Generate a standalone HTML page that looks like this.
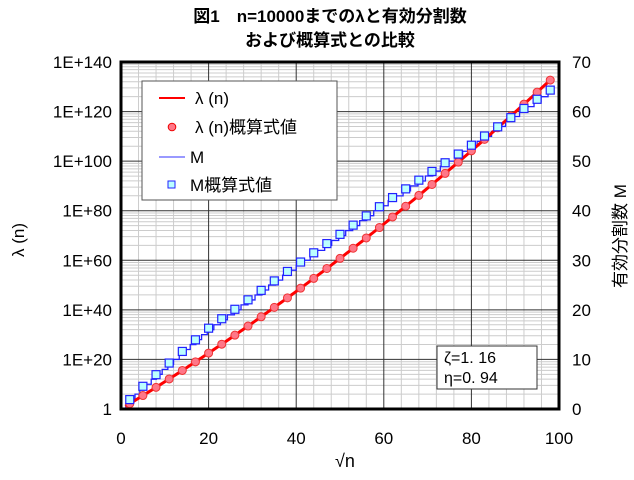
<!DOCTYPE html>
<html><head><meta charset="utf-8"><style>
body{margin:0;background:#fff;}
svg text{font-family:"Liberation Sans","Noto Sans CJK JP",sans-serif;}
</style></head><body>
<svg id="s" width="634" height="475" xmlns="http://www.w3.org/2000/svg">
<rect width="634" height="475" fill="#fff"/>
<g id="grid"></g>
<g id="ser"></g>
<rect x="121" y="62" width="438" height="347" fill="none" stroke="#000" stroke-width="3"/>
<text x="330" y="22" font-size="17" font-weight="bold" text-anchor="middle">図1　n=10000までのλと有効分割数</text>
<text x="330" y="46" font-size="17" font-weight="bold" text-anchor="middle">および概算式との比較</text>
<g font-size="17" text-anchor="end" id="yl"></g>
<g font-size="17" text-anchor="start" id="yr"></g>
<g font-size="17" text-anchor="middle" id="xl"></g>
<text transform="translate(24,240) rotate(-90)" font-size="17" text-anchor="middle">λ (n)</text>
<text transform="translate(626,236) rotate(-90)" font-size="17" text-anchor="middle">有効分割数  M</text>
<text x="345" y="467" font-size="18" text-anchor="middle">√n</text>
<rect x="142" y="81" width="195" height="119" fill="#fff" stroke="#555" stroke-width="1"/>
<line x1="159" y1="98" x2="185" y2="98" stroke="#f00" stroke-width="2"/>
<text x="195" y="104" font-size="17">λ (n)</text>
<circle cx="172" cy="127" r="3.8" fill="#f78" stroke="#e00"/>
<text x="195" y="133" font-size="17">λ (n)概算式値</text>
<line x1="159" y1="157" x2="185" y2="157" stroke="#33f" stroke-width="1"/>
<text x="190" y="163" font-size="17">M</text>
<rect x="168" y="181" width="7" height="7" fill="#bff" stroke="#22f"/>
<text x="190" y="191" font-size="17">M概算式値</text>
<rect x="437" y="346" width="100" height="43" fill="#fff" stroke="#333"/>
<text x="444" y="363" font-size="16">ζ=1. 16</text>
<text x="444" y="383" font-size="16">η=0. 94</text>
</svg>
<script>
const NS="http://www.w3.org/2000/svg";
function el(p,t,a){const e=document.createElementNS(NS,t);for(const k in a)e.setAttribute(k,a[k]);p.appendChild(e);return e;}
const L=121,R=559,T=62,B=409;
const X=s=>L+s*(R-L)/100, YD=d=>B-d*(B-T)/140, YM=m=>B-m*(B-T)/70;
const g=document.getElementById('grid');
for(let s=4;s<100;s+=4){if(s%20)el(g,'line',{x1:X(s),x2:X(s),y1:T,y2:B,stroke:'#ccc','stroke-width':1});}
for(let b=0;b<140;b+=20){for(let k=2;k<=9;k++){const y=YD(b+20*Math.log10(k));el(g,'line',{x1:L,x2:R,y1:y,y2:y,stroke:'#ccc','stroke-width':1});}}
for(let s=20;s<100;s+=20)el(g,'line',{x1:X(s),x2:X(s),y1:T,y2:B,stroke:'#333','stroke-width':1});
for(let d=20;d<140;d+=20)el(g,'line',{x1:L,x2:R,y1:YD(d),y2:YD(d),stroke:'#333','stroke-width':1});
const yl=document.getElementById('yl'),yr=document.getElementById('yr'),xl=document.getElementById('xl');
for(let d=0;d<=140;d+=20){el(yl,'text',{x:112,y:YD(d)+6}).textContent=d?('1E+'+d):'1';}
for(let m=0;m<=70;m+=10){el(yr,'text',{x:572,y:YM(m)+6}).textContent=m;}
for(let s=0;s<=100;s+=20){el(xl,'text',{x:X(s),y:444}).textContent=s;}
const lam=s=>1.07*s+0.0029*s*s;
const mp=[[0,0],[4,3.8],[20,16.3],[40.6,29.4],[61.4,42.3],[79,52.6],[98.6,64.7],[100,65.5]];
const M=s=>{for(let i=1;i<mp.length;i++){if(s<=mp[i][0]){const a=mp[i-1],b=mp[i];return a[1]+(b[1]-a[1])*(s-a[0])/(b[0]-a[0]);}}return 65.5;};
const ser=document.getElementById('ser');
let d='';let prev=null;
for(let s=1;s<=98.6;s+=0.1){const m=Math.floor(M(s));const x=X(s),y=YM(m);if(prev===null)d+='M'+x+' '+y;else if(m!==prev)d+='L'+x+' '+YM(prev)+'L'+x+' '+y;prev=m;}
d+='L'+X(98.6)+' '+YM(prev);
el(ser,'path',{d:d,fill:'none',stroke:'#22f','stroke-width':1.3});
let dr='';for(let s=1;s<=98.6;s+=0.5){dr+=(dr?'L':'M')+X(s)+' '+YD(lam(s));}
el(ser,'path',{d:dr,fill:'none',stroke:'#f00','stroke-width':3});
for(let s=2;s<=99;s+=3){el(ser,'circle',{cx:X(s),cy:YD(lam(s)),r:4,fill:'#f78',stroke:'#e33','stroke-width':1});}
for(let s=2;s<=99;s+=3){const x=X(s),y=YM(M(s));el(ser,'rect',{x:x-4,y:y-4,width:8,height:8,fill:'#bff',stroke:'#22f','stroke-width':1.2});}
</script>
</body></html>
